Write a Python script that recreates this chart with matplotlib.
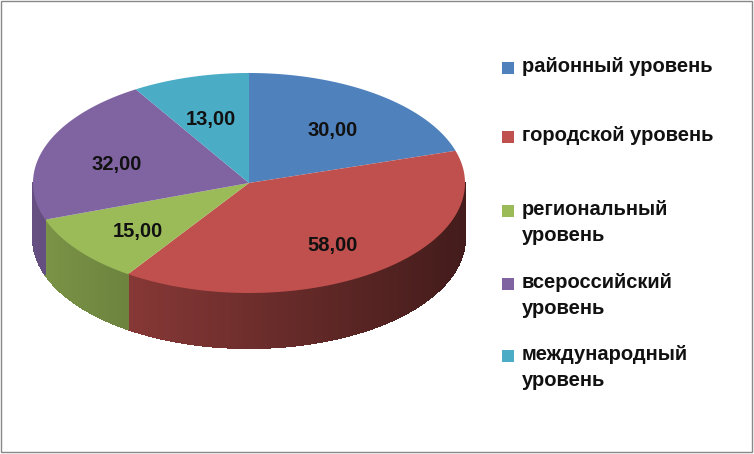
import numpy as np
import matplotlib.pyplot as plt
from matplotlib.patches import Polygon, Rectangle
from matplotlib.colors import to_rgb

labels = ['районный уровень', 'городской уровень', 'региональный\nуровень',
          'всероссийский\nуровень', 'международный\nуровень']
values = [30, 58, 15, 32, 13]
colors = ['#4F81BD', '#C0504D', '#9BBB59', '#8064A2', '#4BACC6']

cx, cy, rx, ry, depth = 249, 183, 216, 110, 55

fig = plt.figure(figsize=(7.54, 4.54), dpi=100)
ax = fig.add_axes([0, 0, 1, 1])
ax.set_xlim(0, 754)
ax.set_ylim(454, 0)
ax.axis('off')
ax.add_patch(Rectangle((1, 1), 751, 451, fill=False, ec='#888888', lw=1))
FONT = dict(family=['Liberation Sans', 'DejaVu Sans'], weight='bold', fontsize=14.5)


def pt(t, dy=0.0):
    r = np.radians(t)
    return cx + rx * np.cos(r), cy - ry * np.sin(r) + dy


fracs = np.array(values) / sum(values) * 360
starts = 90 - np.concatenate([[0], np.cumsum(fracs)[:-1]])
ends = starts - fracs

# side walls (front half only)
for s, e, c in zip(starts, ends, colors):
    lo, hi = max(e, -180), min(s, 0)
    if lo >= hi:
        continue
    ts = np.linspace(lo, hi, int((hi - lo) * 2) + 2)
    base = np.array(to_rgb(c))
    for a, b in zip(ts[:-1], ts[1:]):
        m = np.radians((a + b) / 2)
        f = 0.8 - 0.45 * (np.cos(m) + 1) / 2
        quad = [pt(a), pt(b), pt(b, depth), pt(a, depth)]
        ax.add_patch(Polygon(quad, closed=True, fc=base * f, ec=base * f, lw=0.8, antialiased=False))

# top face
for s, e, c in zip(starts, ends, colors):
    ts = np.linspace(s, e, 200)
    poly = [(cx, cy)] + [pt(t) for t in ts]
    ax.add_patch(Polygon(poly, closed=True, fc=c, ec='none'))

for s, e, v in zip(starts, ends, values):
    m = np.radians((s + e) / 2)
    k = 0.65
    ax.text(cx + k * rx * np.cos(m), cy - k * ry * np.sin(m) + 5, f'{v:.2f}'.replace('.', ','),
            ha='center', va='center', color='#111111', **FONT)

# legend
leg_y = [68, 137, 211, 284, 356]
for y, lab, c in zip(leg_y, labels, colors):
    ax.add_patch(Rectangle((502, y - 6), 12, 12, fc=c, ec='none'))
    ax.text(522, y - 11, lab, ha='left', va='top', color='#111111', linespacing=1.45, **FONT)

fig.savefig('out.png', dpi=100)
